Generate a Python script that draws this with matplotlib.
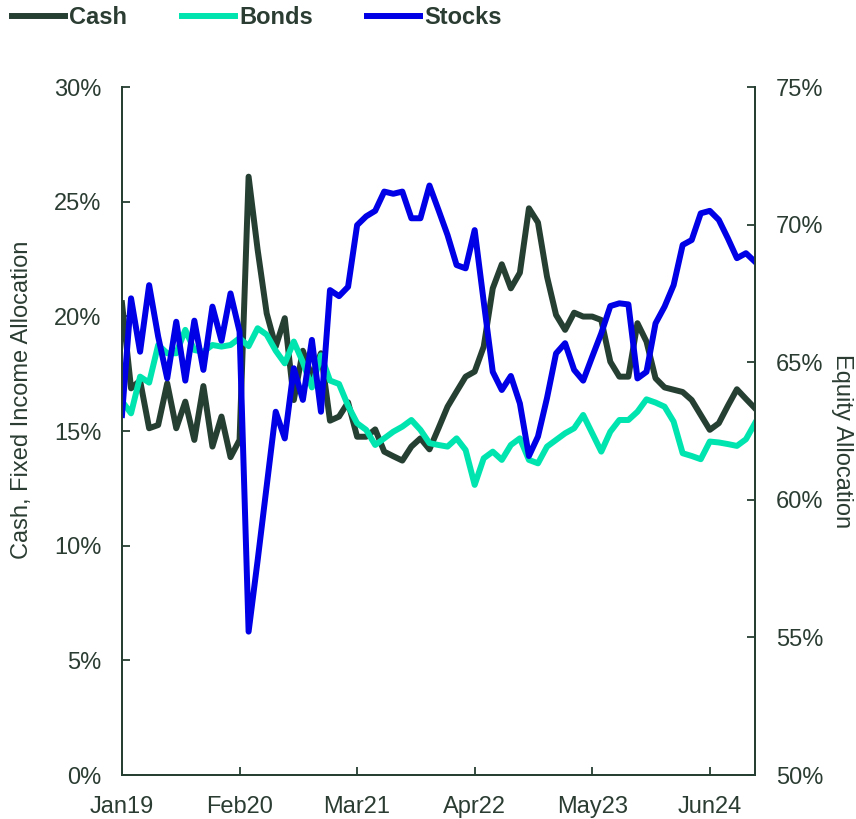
import numpy as np
import pandas as pd
import matplotlib
matplotlib.use("Agg")
import matplotlib.pyplot as plt
from matplotlib.ticker import FuncFormatter

plt.rcParams['font.family'] = ['Liberation Sans', 'DejaVu Sans']

# Monthly allocation data, Jan 2019 - Nov 2024 (values in %)
months = pd.date_range("2019-01-01", periods=71, freq="MS")

cash = [20.57, 16.86, 17.2, 15.12, 15.26, 17.08, 15.12, 16.28, 14.61, 16.96,
        14.32, 15.63, 13.86, 14.61, 26.09, 22.9, 20.13, 18.68, 19.92, 16.35,
        18.5, 17.37, 18.39, 15.45, 15.63, 16.25, 14.75, 14.75, 15.07, 14.1,
        13.9, 13.71, 14.32, 14.68, 14.2, 15.12, 16.06, 16.72, 17.37, 17.59,
        18.68, 21.22, 22.27, 21.22, 21.9, 24.71, 24.09, 21.73, 20.06, 19.41,
        20.16, 19.99, 19.99, 19.84, 18.02, 17.37, 17.37, 19.7, 18.9, 17.3,
        16.9, 16.8, 16.7, 16.35, 15.7, 15.05, 15.34, 16.1, 16.82, 16.4, 15.99]

bonds = [16.3, 15.77, 17.37, 17.11, 18.75, 18.39, 18.39, 19.41, 18.53, 18.46,
         18.75, 18.68, 18.75, 19.05, 18.7, 19.48, 19.2, 18.5, 17.95, 18.9,
         18.0, 16.9, 18.3, 17.2, 17.05, 16.1, 15.34, 15.05, 14.39, 14.68,
         14.97, 15.19, 15.48, 15.05, 14.47, 14.39, 14.32, 14.68, 14.17, 12.65,
         13.81, 14.1, 13.74, 14.39, 14.68, 13.74, 13.59, 14.32, 14.61, 14.9,
         15.12, 15.7, 14.9, 14.1, 14.97, 15.48, 15.48, 15.84, 16.38, 16.24,
         16.06, 15.41, 14.03, 13.91, 13.77, 14.54, 14.5, 14.43, 14.35, 14.64, 15.34]

stocks = [63.08, 67.32, 65.38, 67.8, 65.93, 64.41, 66.47, 64.33, 66.51, 64.72,
          67.02, 65.78, 67.5, 66.11, 55.21, 57.8, 60.5, 63.2, 62.23, 64.78,
          63.63, 65.81, 63.2, 67.62, 67.4, 67.74, 69.98, 70.3, 70.5, 71.2,
          71.12, 71.2, 70.23, 70.23, 71.42, 70.53, 69.62, 68.53, 68.41, 69.8,
          67.2, 64.65, 63.99, 64.5, 63.5, 61.59, 62.3, 63.7, 65.32, 65.69,
          64.72, 64.33, 65.2, 66.05, 67.04, 67.14, 67.1, 64.41, 64.65, 66.41,
          67.02, 67.8, 69.26, 69.44, 70.41, 70.5, 70.17, 69.5, 68.78, 68.96, 68.65]

tick_months = ["2019-01", "2020-02", "2021-03", "2022-04", "2023-05", "2024-06"]

c_cash = "#263f33"
c_bonds = "#00e5b0"
c_stocks = "#0000e6"
c_text = "#2b3d33"
fs = 17

x = np.arange(len(months))

fig = plt.figure(figsize=(8.56, 8.19), dpi=100)
ax = fig.add_axes([122 / 856, 1 - 775 / 819, 633 / 856, 688 / 819])
ax2 = ax.twinx()

l1, = ax.plot(x, cash, color=c_cash, lw=4.3, label="Cash", solid_joinstyle="round")
l2, = ax.plot(x, bonds, color=c_bonds, lw=4.3, label="Bonds", solid_joinstyle="round")
l3, = ax2.plot(x, stocks, color=c_stocks, lw=4.3, label="Stocks", solid_joinstyle="round")

ax.set_xlim(0, len(months) - 1)
ax.set_ylim(0, 30)
ax2.set_ylim(50, 75)
ax.set_yticks(np.arange(0, 31, 5))
ax2.set_yticks(np.arange(50, 76, 5))
pct = FuncFormatter(lambda v, p: f"{v:.0f}%")
ax.yaxis.set_major_formatter(pct)
ax2.yaxis.set_major_formatter(pct)

tick_pos = [months.get_loc(pd.Timestamp(m)) for m in tick_months]
ax.set_xticks(tick_pos)
ax.set_xticklabels([months[i].strftime("%b%y") for i in tick_pos])

for a in (ax, ax2):
    a.spines["top"].set_visible(False)
    for s in ("left", "right", "bottom"):
        a.spines[s].set_color(c_cash)
        a.spines[s].set_linewidth(1.3)
    a.tick_params(direction="in", length=6, width=1.3, color=c_cash,
                  labelsize=fs, labelcolor=c_text, pad=15)

ax.set_ylabel("Cash, Fixed Income Allocation", fontsize=fs, color=c_text)
ax.yaxis.set_label_coords(-0.141, 0.545)
ax2.set_ylabel("Equity Allocation", fontsize=fs, color=c_text, rotation=270, labelpad=22)
ax2.yaxis.set_label_coords(1.155, 0.485)

fig.legend(handles=[l1, l2, l3], loc="upper left", bbox_to_anchor=(10 / 856, 1 - 4 / 819),
           ncol=3, frameon=False, handlelength=2.25, handletextpad=0.17,
           columnspacing=2.3, borderpad=0.1, borderaxespad=0,
           prop={"weight": "bold", "size": fs}, labelcolor=c_text)

fig.savefig("out.png", dpi=100)
